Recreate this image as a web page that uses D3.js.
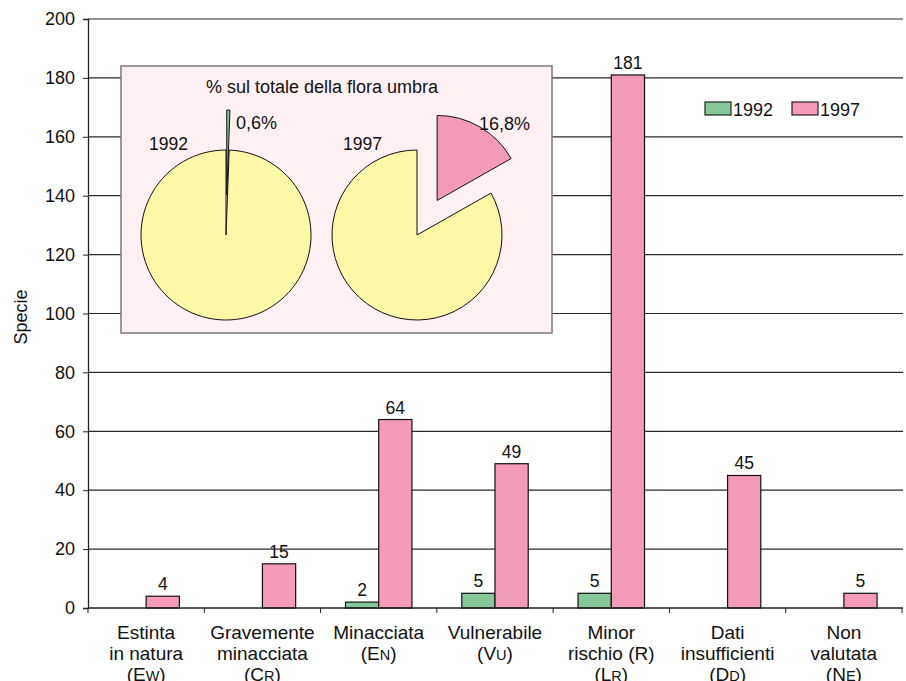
<!DOCTYPE html>
<html>
<head>
<meta charset="utf-8">
<script src="https://cdn.jsdelivr.net/npm/d3@7"></script>
<style>
  body { margin: 0; background: #fff; }
  svg { font-family: "Liberation Sans", Arial, sans-serif; }
</style>
</head>
<body>
<svg id="chart" width="906" height="681"></svg>
<script>
// categories: each line is a list of [text, smallCaps] parts
const categories = [
  [[["Estinta"]], [["in natura"]], [["(E"], ["W", true], [")"]]],
  [[["Gravemente"]], [["minacciata"]], [["(C"], ["R", true], [")"]]],
  [[["Minacciata"]], [["(E"], ["N", true], [")"]]],
  [[["Vulnerabile"]], [["(V"], ["U", true], [")"]]],
  [[["Minor"]], [["rischio (R)"]], [["(L"], ["R", true], [")"]]],
  [[["Dati"]], [["insufficienti"]], [["(D"], ["D", true], [")"]]],
  [[["Non"]], [["valutata"]], [["(N"], ["E", true], [")"]]]
];
const years = ["1992", "1997"];
const values1992 = [0, 0, 2, 5, 5, 0, 0];
const values1997 = [4, 15, 64, 49, 181, 45, 5];
const yTicks = [0, 20, 40, 60, 80, 100, 120, 140, 160, 180, 200];

// inset pies: % of the whole Umbrian flora
const pieTitle = "% sul totale della flora umbra";
const pieShares = [0.6, 16.8];
const pieLabels = ["0,6%", "16,8%"];

const colors = { "1992": "#84c89a", "1997": "#f49bba" };
const pieRest = "#fdf7a8";

const svg = d3.select("#chart");
const margin = { left: 88, right: 903, top: 19, bottom: 608 };

const x = d3.scaleBand()
  .domain(d3.range(categories.length))
  .range([margin.left, 902]);
const xInner = d3.scaleBand()
  .domain(years)
  .range([0, x.bandwidth()])
  .paddingOuter(0.75);
const y = d3.scaleLinear()
  .domain([0, 200])
  .range([margin.bottom, margin.top]);

// gridlines
svg.append("g")
  .selectAll("line")
  .data(yTicks.filter(d => d > 0))
  .enter().append("line")
  .attr("x1", margin.left).attr("x2", margin.right)
  .attr("y1", d => y(d)).attr("y2", d => y(d))
  .attr("stroke", "#2a2a2a").attr("stroke-width", 1.2);

// y axis
const yAxis = svg.append("g")
  .attr("transform", `translate(${margin.left},0)`)
  .call(d3.axisLeft(y).tickValues(yTicks).tickSize(5).tickPadding(8));
yAxis.select(".domain").attr("stroke", "#222").attr("stroke-width", 1.3);
yAxis.selectAll(".tick line").attr("stroke", "#222");
yAxis.selectAll("text")
  .attr("font-size", 18).attr("fill", "#111")
  .style("font-family", "Liberation Sans, Arial, sans-serif");

svg.append("text")
  .attr("transform", "translate(27,317) rotate(-90)")
  .attr("text-anchor", "middle")
  .attr("font-size", 18)
  .attr("fill", "#111")
  .text("Specie");

// bars
const rows = categories.map((c, i) => ({ i, v: { "1992": values1992[i], "1997": values1997[i] } }));
const groups = svg.append("g").selectAll("g")
  .data(rows)
  .enter().append("g")
  .attr("transform", d => `translate(${x(d.i)},0)`);

const bars = groups.selectAll("g")
  .data(d => years.map(k => ({ k, v: d.v[k] })).filter(d => d.v > 0))
  .enter().append("g");
bars.append("rect")
  .attr("x", d => xInner(d.k))
  .attr("width", xInner.bandwidth())
  .attr("y", d => y(d.v))
  .attr("height", d => y(0) - y(d.v))
  .attr("fill", d => colors[d.k])
  .attr("stroke", "#111").attr("stroke-width", 1.2);
bars.append("text")
  .attr("x", d => xInner(d.k) + xInner.bandwidth() / 2)
  .attr("y", d => y(d.v) - 6)
  .attr("text-anchor", "middle")
  .attr("font-size", 17.5)
  .attr("fill", "#111")
  .text(d => d.v);

// x axis
const xAxis = svg.append("g");
xAxis.append("line")
  .attr("x1", margin.left).attr("x2", margin.right)
  .attr("y1", y(0)).attr("y2", y(0))
  .attr("stroke", "#222").attr("stroke-width", 1.3);
xAxis.selectAll(".xt")
  .data(d3.range(categories.length + 1))
  .enter().append("line")
  .attr("class", "xt")
  .attr("x1", d => margin.left + d * x.step()).attr("x2", d => margin.left + d * x.step())
  .attr("y1", y(0)).attr("y2", y(0) + 5)
  .attr("stroke", "#222");

const labels = xAxis.selectAll(".xl")
  .data(categories)
  .enter().append("text")
  .attr("class", "xl")
  .attr("text-anchor", "middle")
  .attr("font-size", 19)
  .attr("fill", "#111");
labels.each(function (lines, i) {
  const t = d3.select(this);
  lines.forEach((parts, j) => {
    const line = t.append("tspan")
      .attr("x", x(i) + x.bandwidth() / 2)
      .attr("y", 639 + j * 21);
    parts.forEach(p => {
      line.append("tspan")
        .attr("font-size", p[1] ? 14.5 : 19)
        .text(p[0]);
    });
  });
});

// inset box with pies
const inset = svg.append("g");
inset.append("rect")
  .attr("x", 121).attr("y", 66)
  .attr("width", 431).attr("height", 267)
  .attr("fill", "#fff0f3")
  .attr("stroke", "#7a7a7a").attr("stroke-width", 1.5);
inset.append("text")
  .attr("x", 322).attr("y", 93)
  .attr("text-anchor", "middle")
  .attr("font-size", 18)
  .attr("fill", "#111")
  .text(pieTitle);

const radius = 85;
const pieCenters = [[226, 235], [417, 235]];
const pie = d3.pie().sort(null).value(d => d);
const arc = d3.arc().innerRadius(0).outerRadius(radius);

pieShares.forEach((share, p) => {
  const g = inset.append("g")
    .attr("transform", `translate(${pieCenters[p][0]},${pieCenters[p][1]})`);
  const slices = pie([share, 100 - share]);
  g.selectAll("path")
    .data(slices.slice().reverse())
    .enter().append("path")
    .attr("d", arc)
    .attr("transform", d => {
      if (d.index !== 0) return null;
      const mid = (d.startAngle + d.endAngle) / 2;
      return `translate(${Math.sin(mid) * 40},${-Math.cos(mid) * 40})`;
    })
    .attr("fill", d => d.index === 0 ? colors[years[p]] : pieRest)
    .attr("stroke", "#111").attr("stroke-width", 1);
});

inset.append("text").attr("x", 149).attr("y", 150)
  .attr("font-size", 17.5).attr("fill", "#111").text(years[0]);
inset.append("text").attr("x", 343).attr("y", 150)
  .attr("font-size", 17.5).attr("fill", "#111").text(years[1]);
inset.append("text").attr("x", 236).attr("y", 129)
  .attr("font-size", 18).attr("fill", "#111").text(pieLabels[0]);
inset.append("text").attr("x", 479).attr("y", 130)
  .attr("font-size", 18).attr("fill", "#111").text(pieLabels[1]);

// legend
const legend = svg.append("g").selectAll("g")
  .data(years)
  .enter().append("g")
  .attr("transform", (d, i) => `translate(${705 + i * 87},102)`);
legend.append("rect")
  .attr("width", 26).attr("height", 13)
  .attr("fill", d => colors[d])
  .attr("stroke", "#222").attr("stroke-width", 1.2);
legend.append("text")
  .attr("x", 28).attr("y", 14)
  .attr("font-size", 18).attr("fill", "#111")
  .text(d => d);
</script>
</body>
</html>
